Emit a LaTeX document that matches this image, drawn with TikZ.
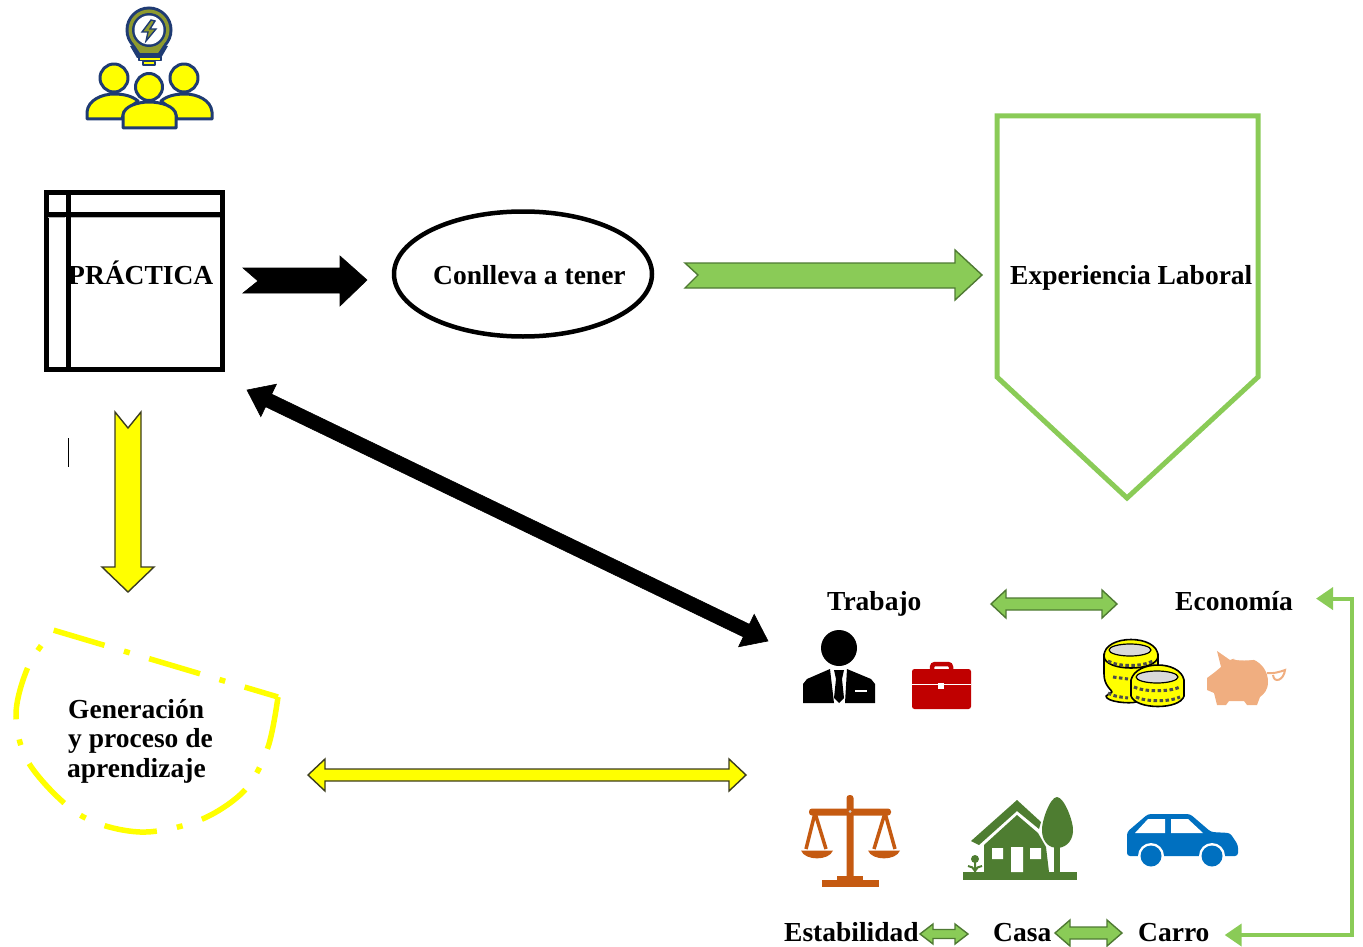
\documentclass[tikz,border=0pt]{standalone}
\usepackage{fontspec}
\setmainfont{Liberation Serif}
\usetikzlibrary{calc,arrows.meta,shapes.geometric}
\definecolor{lgreen}{HTML}{8ACB57}
\definecolor{dgreen}{HTML}{4F7A33}
\definecolor{navy}{HTML}{1F3B73}
\definecolor{olive}{HTML}{8E9A2E}
\definecolor{yel}{HTML}{FFFF00}
\definecolor{brick}{HTML}{C00000}
\definecolor{rust}{HTML}{C55A11}
\definecolor{house}{HTML}{4E7D31}
\definecolor{carb}{HTML}{0070C0}
\definecolor{pig}{HTML}{F0AE80}
\definecolor{arrowedge}{HTML}{3C3C20}
% \dblarrow[style]{A}{B}{half shaft}{half head}{head length}
\newcommand\dblarrow[6][]{%
  \draw[#1] (#2)
   -- ($(#2)!#6pt!(#3)!#5pt!90:(#3)$)
   -- ($(#2)!#6pt!(#3)!#4pt!90:(#3)$)
   -- ($(#3)!#6pt!(#2)!#4pt!-90:(#2)$)
   -- ($(#3)!#6pt!(#2)!#5pt!-90:(#2)$)
   -- (#3)
   -- ($(#3)!#6pt!(#2)!#5pt!90:(#2)$)
   -- ($(#3)!#6pt!(#2)!#4pt!90:(#2)$)
   -- ($(#2)!#6pt!(#3)!#4pt!-90:(#3)$)
   -- ($(#2)!#6pt!(#3)!#5pt!-90:(#3)$)
   -- cycle;}
\tikzset{
  lbl/.style={font=\fontsize{27.5}{30}\selectfont\bfseries,inner sep=0pt,text=black},
  gblock/.style={fill=lgreen,draw=dgreen,line width=1.4pt,line join=miter},
  yblock/.style={fill=yel,draw=arrowedge,line width=1.4pt,line join=miter},
  kblock/.style={fill=black,draw=black,line width=.6pt,line join=miter},
  iconline/.style={line join=round,line cap=round},
  coinmark/.style={gray!60!black,line width=3pt,dash pattern=on 3.5pt off 2.5pt,line cap=butt},
}
\begin{document}
\begin{tikzpicture}[x=1pt,y=-1pt]
\useasboundingbox (0,0) rectangle (1363,947);
% ---------- people icon
\begin{scope}[navy,line width=3pt,iconline]
 \draw[fill=yel] (87,119) -- (87,112) .. controls (88,100) and (102,94) .. (114,94) .. controls (124,94) and (132,96) .. (138,101) -- (124,112) -- (122,119) -- cycle;
 \draw[fill=yel] (212,119) -- (212,112) .. controls (211,100) and (197,94) .. (185,94) .. controls (175,94) and (167,96) .. (161,101) -- (175,112) -- (177,119) -- cycle;
 \draw[fill=yel] (123,128) -- (123,115) .. controls (124,106) and (138,102) .. (149,102) .. controls (161,102) and (175,106) .. (176,115) -- (176,128) -- cycle;
 \draw[fill=yel] (114,78) circle (14);
 \draw[fill=yel] (184,78) circle (14);
 \draw[fill=yel] (149,87) circle (13.5);
 % bulb
 \fill (149,30) circle (23.5);
 \fill (130,46) -- (168,46) -- (161,58) -- (137,58) -- cycle;
 \fill[olive] (149,30) circle (20.5);
 \fill[olive] (134,44) -- (164,44) -- (158,53) -- (140,53) -- cycle;
 \fill[navy] (149,30) circle (17);
 \fill[white] (149,30) circle (14.5);
 \draw[fill=yel,line width=1.5pt] (139,57) rectangle (161,60.5);
 \draw[fill=yel,line width=1.5pt] (143,61.5) rectangle (155,65);
 \draw[fill=olive,line width=1.4pt,line join=miter] (151,20) -- (142,32) -- (148,32) -- (146,41) -- (156,29) -- (150,29) -- (155,21) -- cycle;
\end{scope}
% ---------- PRACTICA box
\draw[black,line width=5pt] (46,192.5) rectangle (222,369.5);
\draw[black,line width=5pt] (46,214) -- (222,214) (68,192) -- (68,370);
\draw[gray!60,line width=.8pt] (48,217.5) -- (65,217.5) (71,217.5) -- (220,217.5);
\node[lbl,anchor=base west] (practica) at (68,284) {PRÁCTICA};
% ---------- black arrow to ellipse
\draw[kblock] (243,268) -- (258,281) -- (243,293) -- (340,293) -- (340,306) -- (367,280) -- (340,256) -- (340,268) -- cycle;
% ---------- ellipse
\node[ellipse,draw=black,line width=4.5pt,minimum width=258pt,minimum height=125pt,inner sep=0pt] (elip) at (523,274) {};
\node[lbl,anchor=base west] (conlleva) at (433,284) {Conlleva a tener};
% ---------- green arrow
\draw[gblock] (685,263) -- (698,275) -- (685,288) -- (955,288) -- (955,300) -- (982,275) -- (955,250) -- (955,263) -- cycle;
% ---------- pentagon
\draw[lgreen,line width=5pt,line join=miter] (997,116) -- (1258,116) -- (1258,377) -- (1127,498) -- (997,377) -- cycle;
\node[lbl,anchor=base west] (exper) at (1010,284) {Experiencia Laboral};
% ---------- yellow down arrow
\draw[yblock] (115,412) -- (128,428) -- (141,412) -- (141,567) -- (154,567) -- (128,592) -- (102,567) -- (115,567) -- cycle;
\draw[black,line width=1pt] (68,438) -- (68,467);
% ---------- black double arrow
\coordinate (kA) at (247,390);
\coordinate (kB) at (768,641);
\dblarrow[kblock]{kA}{kB}{7}{18}{24}
% ---------- dash-dot shape
\draw[yel,line width=5.5pt,dash pattern=on 53pt off 20.3pt on 6pt off 20.3pt,line join=miter]
 plot[smooth,tension=.55] coordinates {(278,697) (268,747) (245,790) (200,820) (140,832) (80,815) (30,765) (16,716) (28,667) (53,630)} -- (278,697);
\node[lbl,anchor=base west] (gen1) at (68,718) {Generación};
\node[lbl,anchor=base west] (gen2) at (68,747) {y proceso de};
\node[lbl,anchor=base west] (gen3) at (67,777) {aprendizaje};
% ---------- yellow double arrow
\coordinate (yA) at (308,775);
\coordinate (yB) at (746,775);
\dblarrow[yblock]{yA}{yB}{6}{16}{17}
% ---------- labels lower right
\node[lbl,anchor=base west] (trabajo) at (827,610) {Trabajo};
\node[lbl,anchor=base west] (economia) at (1175,610) {Economía};
\node[lbl,anchor=base west] (estab) at (784,941) {Estabilidad};
\node[lbl,anchor=base west] (casa) at (993,941) {Casa};
\node[lbl,anchor=base west] (carro) at (1138,941) {Carro};
\coordinate (g1A) at (991,604);
\coordinate (g1B) at (1117,604);
\dblarrow[gblock]{g1A}{g1B}{6}{14}{15}
\coordinate (g2A) at (920,934);
\coordinate (g2B) at (968,934);
\dblarrow[gblock]{g2A}{g2B}{4.5}{10}{13}
\coordinate (g3A) at (1055,933);
\coordinate (g3B) at (1122,933);
\dblarrow[gblock]{g3A}{g3B}{6}{13}{15}
% ---------- elbow
\coordinate (elbowR) at (1352,0);
\coordinate (elbowC) at ($(carro.east)+(15,3)$);
\coordinate (elbowE) at ($(economia.east)+(23,-2)$);
\draw[lgreen,line width=4pt,{Triangle[length=17pt,width=22pt]}-{Triangle[length=17pt,width=22pt]}]
 (elbowC) -- (elbowC -| elbowR) -- (elbowE -| elbowR) -- (elbowE);
% ---------- man
\fill[black] (839,648) circle (18);
\fill[black] (803,703) -- (803,684) -- (807,679) -- (830,669) -- (834,703) -- cycle;
\fill[black] (875,703) -- (875,684) -- (871,679) -- (847,669) -- (845,703) -- cycle;
\fill[black] (834,670) -- (844,670) -- (842,679) -- (844,698) -- (839,703) -- (834,698) -- (836,679) -- cycle;
\fill[white] (855,689.5) rectangle (867,691.5);
% ---------- briefcase
\draw[brick,line width=4.5pt,rounded corners=3pt] (932,671) -- (932,664) -- (951,664) -- (951,671);
\fill[brick,rounded corners=2.5pt] (912,669) rectangle (971,709);
\draw[white,line width=1.2pt] (912,684.5) -- (971,684.5);
\fill[white] (938,683) rectangle (944,689);
% ---------- coins
\begin{scope}[line width=1.6pt,iconline]
 \draw[fill=yel] (1104,674) .. controls (1104,686) and (1112,690) .. (1112,692) -- (1106,696) .. controls (1106,702) and (1130,704) .. (1136,702) -- (1146,680) -- (1158,672) -- (1158,654) -- (1104,654) -- cycle;
 \draw[fill=yel] (1104,656) .. controls (1104,634) and (1158,634) .. (1158,656) .. controls (1158,672) and (1104,672) .. (1104,656) -- cycle;
 \draw[fill=white!70!gray,line width=1.2pt] (1130,650) ellipse (21 and 6);
 \draw[coinmark] (1108,661) .. controls (1118,667) and (1142,667) .. (1153,661);
 \draw[coinmark] (1108,693) .. controls (1112,696) and (1120,697) .. (1128,698);
 \draw[coinmark] (1113,677) -- (1128,679);
 \draw[fill=yel] (1131,680) -- (1131,696) .. controls (1136,710) and (1180,710) .. (1184,696) -- (1184,680) .. controls (1180,660) and (1136,660) .. (1131,680) -- cycle;
 \draw[fill=white!70!gray,line width=1.2pt] (1157,677) ellipse (21 and 6);
 \draw[coinmark] (1134,687) .. controls (1144,692) and (1170,692) .. (1180,687);
 \draw[coinmark] (1136,697) .. controls (1146,702) and (1170,702) .. (1180,697);
\end{scope}
% ---------- piggy
\begin{scope}[pig]
 \fill (1217,651) -- (1230,660) .. controls (1250,652) and (1268,664) .. (1268,682) .. controls (1268,690) and (1264,694) .. (1260,697) -- (1257,705) -- (1247,705) -- (1244,701) -- (1229,701) -- (1226,705) -- (1217,705) -- (1214,693) -- (1207,690) -- (1207,678) -- (1215,672) -- (1221,667) -- cycle;
 \draw[line width=2pt] (1267,673) .. controls (1272,674) and (1280,672) .. (1285,670) .. controls (1284,680) and (1274,684) .. (1273,675);
 \fill[white] (1233,659) .. controls (1238,655) and (1250,655) .. (1256,659) .. controls (1250,661) and (1238,661) .. (1233,659) -- cycle;
\end{scope}
% ---------- scales
\begin{scope}[rust]
 \fill[rounded corners=3pt] (846.5,795) rectangle (853.5,880);
 \fill[rounded corners=3pt] (809,808.5) rectangle (891,815.5);
 \fill (822,880) rectangle (879,887);
 \fill (837,875.5) rectangle (863,880);
 \draw[line width=3.5pt] (815,813) -- (806,849) (815,813) -- (826,849);
 \draw[line width=3.5pt] (885,813) -- (874,849) (885,813) -- (895,849);
 \fill (801,850.5) .. controls (805,861) and (829,861) .. (833,850.5) -- cycle;
 \fill (868,850.5) .. controls (872,861) and (896,861) .. (900,850.5) -- cycle;
 \fill[gray!40] (850,811.5) circle (1.5);
\end{scope}
% ---------- house
\begin{scope}[house]
 \fill (971,841) -- (1017,800) -- (1041,822) -- (1039,829) -- (1017,811) -- (979,845) -- cycle;
 \fill (984,845) -- (1017,815) -- (1038,833) -- (1046,847) -- (1049,872) -- (984,872) -- cycle;
 \fill (963,872) rectangle (1077,880);
 \fill[white] (992,848) rectangle (1003,859) (1011,847) rectangle (1023,872) (1030,848) rectangle (1041,859);
 \fill (1057,797) .. controls (1064,797) and (1074,822) .. (1073,832) .. controls (1072,843) and (1064,848) .. (1057,848) .. controls (1050,848) and (1043,843) .. (1042,832) .. controls (1041,822) and (1050,797) .. (1057,797) -- cycle;
 \fill (1054,846) rectangle (1060,873);
 \fill (975,859) circle (4);
 \draw[line width=2pt] (975,860) -- (975,872) (968,866) .. controls (971,866) and (974,868) .. (975,871) (982,866) .. controls (979,866) and (976,868) .. (975,871);
\end{scope}
% ---------- car
\begin{scope}
 \fill[carb,rounded corners=3pt] (1127,856) -- (1127,832) -- (1148,814) -- (1190,814) -- (1211,832) -- (1230,833) -- (1238,845) -- (1238,856) -- cycle;
 \fill[white] (1135,833) -- (1148,819) -- (1165,819) -- (1165,833) -- cycle;
 \fill[white] (1171,819) -- (1188,819) -- (1203,833) -- (1171,833) -- cycle;
 \fill[white] (1151,856) circle (13) (1212,856) circle (13);
 \fill[white] (1127,857) rectangle (1238,872);
 \fill[carb] (1151,856) circle (10.5) (1212,856) circle (10.5);
\end{scope}
\end{tikzpicture}
\end{document}
